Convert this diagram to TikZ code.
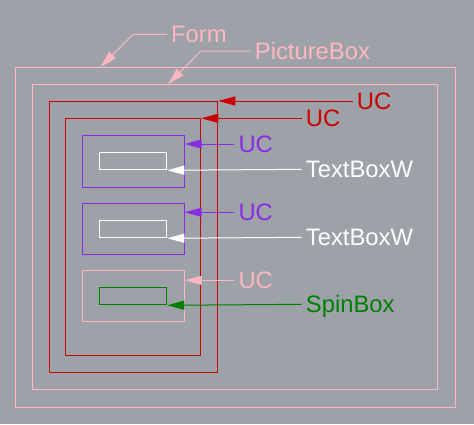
\documentclass[tikz,border=0pt]{standalone}
\usepackage{fontspec}
\setmainfont{Liberation Sans}
\usepackage{xcolor}
\usetikzlibrary{arrows.meta, calc}
\definecolor{clrBack}{HTML}{9DA1A8}
\definecolor{clrPink}{HTML}{FFB6C1}
\definecolor{clrRed}{HTML}{CC0000}
\definecolor{clrPurple}{HTML}{8A2BE2}
\definecolor{clrGreen}{HTML}{008000}
\definecolor{clrWhite}{HTML}{FFFFFF}
\tikzset{
  ctl box/.style={rectangle, draw, line width=1pt, inner sep=0pt, anchor=north west},
  ctl label/.style={anchor=west, inner xsep=4pt, inner ysep=0pt, text depth=0pt, font=\fontsize{23.8}{28}\selectfont},
  arr/.style={-{Triangle[length=17pt, width=9pt]}, line width=1pt},
}

\begin{document}
\begin{tikzpicture}[x=1pt, y=-1pt]
  \fill[clrBack] (0,0) rectangle (474,424);
  \useasboundingbox (0,0) rectangle (474,424);

  % Containers
  \node[ctl box, draw=clrPink, minimum width=440.2pt, minimum height=339.7pt] (form) at (14.5,67) {};
  \node[ctl box, draw=clrPink, minimum width=405.6pt, minimum height=305pt] (pic) at (31.7,84.3) {};
  \node[ctl box, draw=clrRed, minimum width=168.6pt, minimum height=271.3pt] (ucOuter) at (48.7,101) {};
  \node[ctl box, draw=clrRed, minimum width=135pt, minimum height=237pt] (ucInner) at (65.3,118.3) {};

  % Small user controls
  \node[ctl box, draw=clrPurple, minimum width=101.4pt, minimum height=51.4pt] (ucTopA) at (82.3,135.3) {};
  \node[ctl box, draw=clrWhite, minimum width=67pt, minimum height=17.3pt] (textA) at (99.3,152) {};
  \node[ctl box, draw=clrPurple, minimum width=101.4pt, minimum height=51pt] (ucTopB) at (82.3,203.3) {};
  \node[ctl box, draw=clrWhite, minimum width=67pt, minimum height=17pt] (textB) at (99.3,220.3) {};
  \node[ctl box, draw=clrPink, minimum width=101.4pt, minimum height=51pt] (ucSpin) at (82.3,270.3) {};
  \node[ctl box, draw=clrGreen, minimum width=67pt, minimum height=17pt] (spin) at (99.3,287.3) {};

  % Labels
  \node[ctl label, text=clrPink] (lblForm) at (167,34.3) {Form};
  \node[ctl label, text=clrPink] (lblPic) at (250.7,51) {PictureBox};
  \node[ctl label, text=clrRed] (lblOuter) at (352.7,101) {UC};
  \node[ctl label, text=clrRed] (lblInner) at (301.7,118.3) {UC};
  \node[ctl label, text=clrPurple] (lblTopA) at (234.3,144) {UC};
  \node[ctl label, text=clrWhite] (lblTextA) at (301.7,169.3) {TextBoxW};
  \node[ctl label, text=clrPurple] (lblTopB) at (234.3,212.3) {UC};
  \node[ctl label, text=clrWhite] (lblTextB) at (301.7,237.3) {TextBoxW};
  \node[ctl label, text=clrPink] (lblSpinUC) at (234.3,280.3) {UC};
  \node[ctl label, text=clrGreen] (lblSpin) at (301.7,304.3) {SpinBox};

  % Leaders
  \draw[arr, clrPink] (lblForm.west) -- ++(-34,0) -- ($(form.north west)+(86,0)$);
  \draw[arr, clrPink] (lblPic.west) -- ++(-49.7,0) -- ($(pic.north west)+(136.3,0)$);
  \draw[arr, clrRed] (lblOuter.west) -- (ucOuter.north east);
  \draw[arr, clrRed] (lblInner.west) -- (ucInner.north east);
  \draw[arr, clrPurple] (lblTopA.west) -- (lblTopA.west -| ucTopA.east);
  \draw[arr, clrWhite] (lblTextA.west) -- (textA.south east);
  \draw[arr, clrPurple] (lblTopB.west) -- (lblTopB.west -| ucTopB.east);
  \draw[arr, clrWhite] (lblTextB.west) -- (textB.south east);
  \draw[arr, clrPink] (lblSpinUC.west) -- (lblSpinUC.west -| ucSpin.east);
  \draw[arr, clrGreen] (lblSpin.west) -- (spin.south east);
\end{tikzpicture}
\end{document}
